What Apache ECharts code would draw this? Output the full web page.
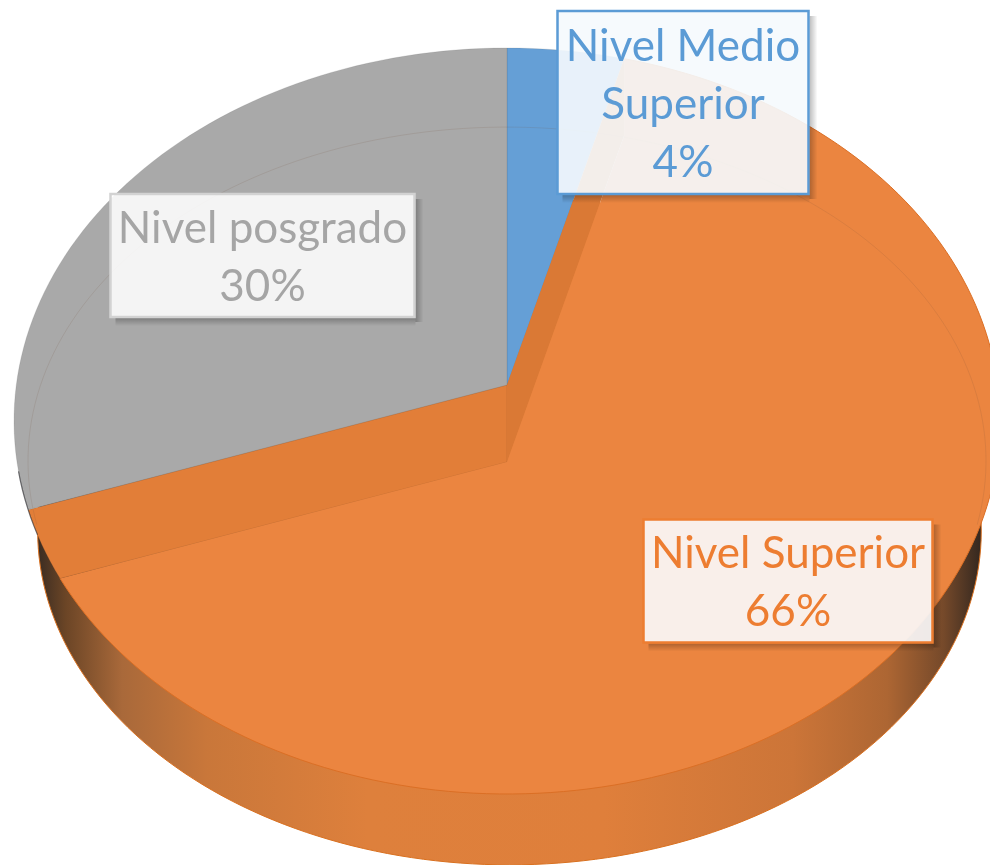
<!DOCTYPE html>
<html>
<head>
<meta charset="utf-8">
<style>html,body{margin:0;padding:0;background:#fff}#c{width:990px;height:865px}</style>
<script src="https://cdn.jsdelivr.net/npm/echarts@6/dist/echarts.min.js"></script>
</head>
<body>
<div id="c"></div>
<script>
var categories = ['Nivel Medio\nSuperior', 'Nivel Superior', 'Nivel posgrado'];
var shares = [4.2, 65.5, 30.3];
var colors = ['#659FD6', '#EB8540', '#A9A9A9'];
var textColors = ['#5B9BD5', '#ED7D31', '#A5A5A5'];
var boxBorders = ['#5B9BD5', '#ED7D31', '#D2D2D2'];
var boxFills = ['rgba(245,250,253,0.91)', 'rgba(251,251,253,0.90)', 'rgba(255,255,255,0.87)'];
var labelBoxes = [[557.5, 11, 251, 183], [643.5, 519.5, 289, 123], [110.5, 194, 304, 123]];

// Perspective of the disc, in the normalised space of the hidden axes
var P = 0.0965, S = Math.sqrt(1 - P * P);   // offset of the far centre
var FLOOR_Y = -0.11;                        // centre of the sunken slice
var X_MAX = 0.9797;                         // the disc is cut off by the right edge of the picture
var toRad = Math.PI / 180;

function cum() {
  var t = 0, a = [0];
  shares.forEach(function (v) { t += v; a.push(t / 100 * 360); });
  return a;
}
function rimPoint(deg) {
  var th = deg * toRad, s = Math.sin(th), c = Math.cos(th), d = 1 + P * c;
  return [s * S / d, (c + P) / d];
}
function phi(p) { var a = Math.atan2(p[0], p[1]) / toRad; return a < 0 ? a + 360 : a; }
function arc(a0, a1, center, rx, ry) {
  var pts = [], n = Math.max(2, Math.ceil(Math.abs(a1 - a0) / 1.5));
  center = center || [0, 0]; rx = rx || 1; ry = ry || 1;
  for (var i = 0; i <= n; i++) {
    var a = (a0 + (a1 - a0) * i / n) * toRad;
    pts.push([center[0] + rx * Math.sin(a), center[1] + ry * Math.cos(a)]);
  }
  return pts;
}
function rayToCircle(o, d) {
  var A = d[0] * d[0] + d[1] * d[1], B = 2 * (o[0] * d[0] + o[1] * d[1]), C = o[0] * o[0] + o[1] * o[1] - 1;
  var t = (-B + Math.sqrt(B * B - 4 * A * C)) / (2 * A);
  return [o[0] + t * d[0], o[1] + t * d[1]];
}

function poly(api, pts, style) {
  return { type: 'polygon', shape: { points: pts.map(function (p) { return api.coord(p); }) }, style: style };
}
function line(api, pts, style) {
  return { type: 'polyline', shape: { points: pts.map(function (p) { return api.coord(p); }) },
    style: Object.assign({ fill: null }, style) };
}

function renderRim(params, api) {
  var pts = arc(0, 360, [0.005, -0.295], 0.957, 0.895);
  return poly(api, pts, {
    fill: { type: 'linear', x: 0, y: 0, x2: 1, y2: 0, colorStops: [
      { offset: 0, color: '#3a2c22' }, { offset: 0.03, color: '#6b4526' }, { offset: 0.09, color: '#a9693a' },
      { offset: 0.18, color: '#c9773a' }, { offset: 0.35, color: '#de803c' }, { offset: 0.6, color: '#df7f3b' },
      { offset: 0.8, color: '#cc7538' }, { offset: 0.9, color: '#ad6633' }, { offset: 0.96, color: '#75492a' },
      { offset: 1, color: '#33271f' }
    ] },
    stroke: '#d9701f', lineWidth: 1
  });
}

function renderSlice(params, api) {
  var i = params.dataIndex, a = cum(), apex = [0, P], floor = [0, FLOOR_Y], kids = [];
  var p0 = rimPoint(a[i]), p1 = rimPoint(a[i + 1]);
  if (i !== 1) {
    var f0 = phi(p0), f1 = phi(p1);
    if (i === 2) { f1 = 360; }
    kids.push(poly(api, [apex].concat(arc(f0, f1)), { fill: colors[i], stroke: 'rgba(90,90,90,0.25)', lineWidth: 0.6 }));
  } else {
    var q = rayToCircle(floor, [p1[0] - apex[0], p1[1] - apex[1]]);
    var p0Low = [p0[0], p0[1] + floor[1] - apex[1]];
    // inner walls left by the sunken slice
    kids.push(poly(api, [apex, p1].concat(arc(phi(p1), phi(q))).concat([floor]), { fill: '#E27E38', stroke: 'rgba(120,70,40,0.3)', lineWidth: 0.6 }));
    kids.push(poly(api, [apex, floor, p0Low, p0], { fill: '#DA7935' }));
    kids.push(poly(api, [floor, p0Low].concat(arc(phi(p0), phi(q))), { fill: colors[i] }));
    kids.push(line(api, arc(phi(p0), phi(q)), { stroke: '#DB6F25', lineWidth: 1 }));
  }
  return { type: 'group', children: kids };
}

function renderDetails(params, api) {
  var a = cum(), kids = [], g = phi(rimPoint(a[2]));
  // faint circle of the sunken floor seen through the surface
  kids.push(line(api, arc(-101, 101, [0, -0.107], 0.9716, 0.895), { stroke: 'rgba(110,80,60,0.14)', lineWidth: 1 }));
  // dark sliver on the left edge
  kids.push(line(api, arc(g - 4, g + 6), { stroke: 'rgba(40,40,45,0.6)', lineWidth: 1.2 }));
  return { type: 'group', children: kids };
}

function shadowStrip(x, y, w, h, horizontal) {
  return { type: 'rect', shape: { x: x, y: y, width: w, height: h }, style: {
    fill: { type: 'linear', x: 0, y: 0, x2: horizontal ? 1 : 0, y2: horizontal ? 0 : 1, colorStops: [
      { offset: 0, color: 'rgba(0,0,0,0.26)' }, { offset: 1, color: 'rgba(0,0,0,0)' }
    ] } } };
}

function renderLabel(params, api) {
  var i = params.dataIndex, b = labelBoxes[i], r = b[0] + b[2], bt = b[1] + b[3];
  return { type: 'group', children: [
    shadowStrip(r + 1, b[1] + 5, 8, b[3], true),
    shadowStrip(b[0] + 5, bt + 1, b[2] - 4, 8, false),
    { type: 'rect', shape: { x: b[0], y: b[1], width: b[2], height: b[3] },
      style: { fill: boxFills[i], stroke: boxBorders[i], lineWidth: 2.5 } },
    { type: 'text', style: {
      x: b[0] + b[2] / 2, y: b[1] + b[3] / 2 + 2,
      text: categories[i] + '\n' + Math.round(shares[i]) + '%',
      fill: textColors[i], font: '44px Lato, "Open Sans", sans-serif',
      align: 'center', verticalAlign: 'middle', lineHeight: 58 } }
  ] };
}

var sliceData = shares.map(function (v, i) { return { name: categories[i], value: [0, 0, v] }; });
var chart = echarts.init(document.getElementById('c'), null, { renderer: 'canvas' });
chart.setOption({
  animation: false,
  backgroundColor: '#fff',
  tooltip: { show: false },
  grid: { left: 14, top: 48, width: 976, height: 746 },
  xAxis: { type: 'value', min: -1, max: X_MAX, show: false },
  yAxis: { type: 'value', min: -1, max: 1, show: false },
  series: [
    { type: 'custom', name: 'rim', clip: false, silent: true, renderItem: renderRim, data: [[0, 0]] },
    { type: 'custom', name: 'slices', clip: false, silent: true, renderItem: renderSlice, data: sliceData },
    { type: 'custom', name: 'details', clip: false, silent: true, renderItem: renderDetails, data: [[0, 0]] },
    { type: 'custom', name: 'labels', clip: false, silent: true, renderItem: renderLabel, data: sliceData }
  ]
});
</script>
</body>
</html>
